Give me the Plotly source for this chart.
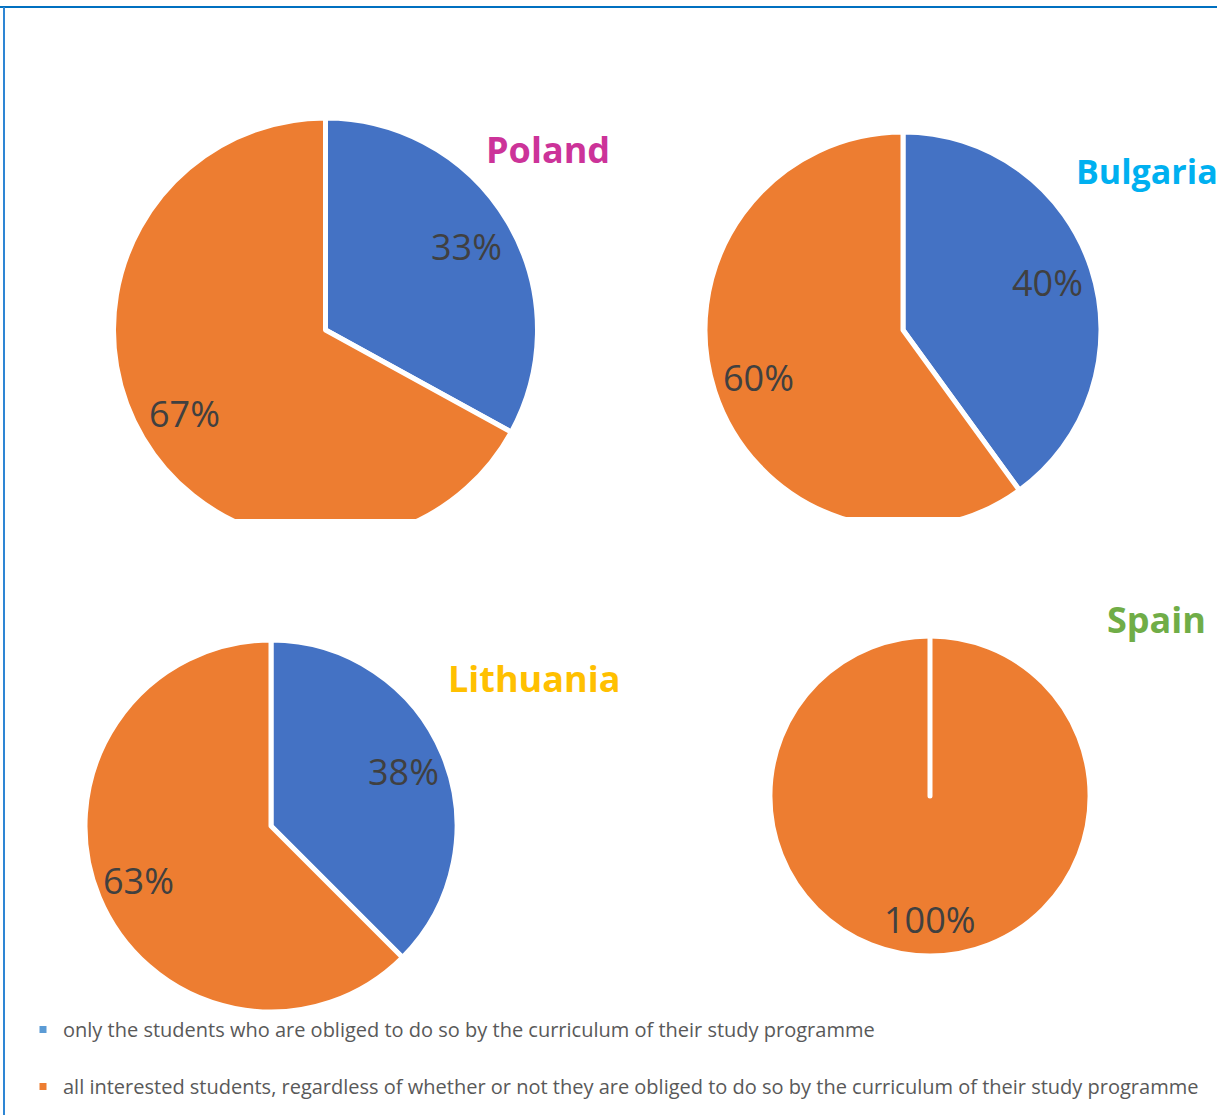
import math
import plotly.graph_objects as go

W, H = 1217, 1115

categories = [
    "only the students who are obliged to do so by the curriculum of their study programme",
    "all interested students, regardless of whether or not they are obliged to do so by the curriculum of their study programme",
]
countries = ["Poland", "Bulgaria", "Lithuania", "Spain"]
poland = [33, 67]
bulgaria = [40, 60]
lithuania = [37.5, 62.5]
spain = [0, 100]

slice_colors = ["#4472C4", "#ED7D31"]
legend_colors = ["#5B9BD5", "#ED7D31"]
title_colors = {"Poland": "#CC3399", "Bulgaria": "#00B0F0", "Lithuania": "#FFC000", "Spain": "#70AD47"}

# pie geometry in pixels: centre x, centre y, radius
geom = {
    "Poland": (325.5, 330, 212),
    "Bulgaria": (903, 330, 198),
    "Lithuania": (271, 826, 186),
    "Spain": (930, 796, 160),
}
values = {"Poland": poland, "Bulgaria": bulgaria, "Lithuania": lithuania, "Spain": spain}
LABEL_R = 0.77  # fraction of the radius at which data labels sit


def dom(cx, cy, r):
    return dict(x=[(cx - r) / W, (cx + r) / W], y=[1 - (cy + r) / H, 1 - (cy - r) / H])


fig = go.Figure()
annotations = []
for c in countries:
    cx, cy, r = geom[c]
    v = values[c]
    if c == "Spain":
        # draw the zero slice last so its white border line stays visible
        labs, vals, cols = categories[::-1], v[::-1], slice_colors[::-1]
    else:
        labs, vals, cols = categories, v, slice_colors
    fig.add_trace(go.Pie(
        labels=labs, values=vals, sort=False, direction="clockwise", rotation=0,
        domain=dom(cx, cy, r),
        marker=dict(colors=cols, line=dict(color="white", width=5)),
        textinfo="none", showlegend=False, hoverinfo="label+percent",
    ))
    # data labels (Excel "best fit" style) along each slice's mid-angle
    total = sum(v)
    start = 0.0
    for val in v:
        frac = val / total
        if frac > 0:
            mid = (start + frac / 2) * 2 * math.pi
            px = cx + LABEL_R * r * math.sin(mid)
            py = cy - LABEL_R * r * math.cos(mid)
            annotations.append(dict(
                x=px / W, y=1 - py / H, xref="paper", yref="paper",
                xanchor="center", yanchor="middle", showarrow=False,
                text=f"{int(frac * 100 + 0.5)}%",
                font=dict(family="Open Sans", size=36, color="#404040"),
            ))
        start += frac

# legend entries
for i, cat in enumerate(categories):
    fig.add_trace(go.Scatter(
        x=[None], y=[None], mode="markers", name=cat, legendgroup=f"g{i}",
        marker=dict(symbol="square", size=7, color=legend_colors[i]),
    ))

# titles
title_pos = {
    "Poland": (548, 150, "center", 36),
    "Bulgaria": (1074, 171, "left", 34),
    "Lithuania": (534, 678, "center", 36),
    "Spain": (1105, 619, "left", 36),
}
for c in countries:
    x, y, anc, fs = title_pos[c]
    annotations.append(dict(
        x=x / W, y=1 - y / H, xref="paper", yref="paper", xanchor=anc, yanchor="middle",
        text=f"<b>{c}</b>", showarrow=False,
        font=dict(family="Open Sans", size=fs, color=title_colors[c]),
    ))

shapes = [
    # clipping of the pie bottoms (as in the source image)
    dict(type="rect", xref="paper", yref="paper", layer="above",
         x0=90 / W, x1=570 / W, y0=1 - 550 / H, y1=1 - 519 / H,
         fillcolor="white", line=dict(width=0)),
    dict(type="rect", xref="paper", yref="paper", layer="above",
         x0=690 / W, x1=1120 / W, y0=1 - 540 / H, y1=1 - 517 / H,
         fillcolor="white", line=dict(width=0)),
    dict(type="rect", xref="paper", yref="paper", layer="above",
         x0=70 / W, x1=470 / W, y0=1 - 1018 / H, y1=1 - 1010 / H,
         fillcolor="white", line=dict(width=0)),
    # frame
    dict(type="line", xref="paper", yref="paper", layer="above",
         x0=0, x1=1, y0=1 - 7 / H, y1=1 - 7 / H, line=dict(color="#0070C0", width=2)),
    dict(type="line", xref="paper", yref="paper", layer="above",
         x0=4 / W, x1=4 / W, y0=0, y1=1 - 7 / H, line=dict(color="#2E86D4", width=2)),
]

fig.update_layout(
    width=W, height=H,
    margin=dict(l=0, r=0, t=0, b=0),
    paper_bgcolor="white", plot_bgcolor="white",
    xaxis=dict(visible=False), yaxis=dict(visible=False),
    annotations=annotations, shapes=shapes,
    showlegend=True,
    legend=dict(
        x=23 / W, y=1 - 1010 / H, xanchor="left", yanchor="top",
        font=dict(family="Open Sans", size=20, color="#595959"),
        tracegroupgap=28, bgcolor="rgba(0,0,0,0)", itemclick=False,
    ),
)

fig.write_html(
    "out.html",
    config={"displayModeBar": False},
    post_script="document.body.style.margin='0px';",
)
